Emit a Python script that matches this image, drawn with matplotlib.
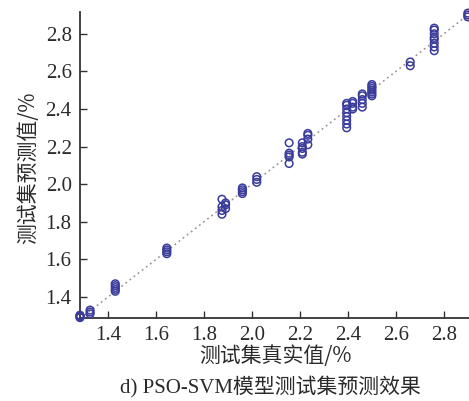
import matplotlib.pyplot as plt
import numpy as np

# true values (x) and predicted values (y) of the test set
true_vals = [1.283, 1.283, 1.283, 1.283, 1.283,
             1.325, 1.325, 1.325,
             1.43, 1.43, 1.43, 1.43, 1.43,
             1.645, 1.645, 1.645, 1.645,
             1.875, 1.875, 1.875, 1.875, 1.89, 1.89, 1.89,
             1.96, 1.96, 1.96, 1.96,
             2.02, 2.02, 2.02,
             2.155, 2.155, 2.155, 2.155, 2.155,
             2.21, 2.21, 2.21, 2.21, 2.21, 2.233, 2.233, 2.233, 2.233,
             2.395, 2.395, 2.395, 2.395, 2.395, 2.395, 2.395, 2.395,
             2.42, 2.42, 2.42, 2.42,
             2.46, 2.46, 2.46, 2.46, 2.46,
             2.50, 2.50, 2.50, 2.50, 2.50, 2.50, 2.50,
             2.66, 2.66,
             2.76, 2.76, 2.76, 2.76, 2.76, 2.76, 2.76, 2.76,
             2.90, 2.90, 2.90]
pred_vals = [1.29, 1.293, 1.296, 1.30, 1.303,
             1.31, 1.32, 1.33,
             1.43, 1.44, 1.45, 1.46, 1.47,
             1.63, 1.64, 1.65, 1.66,
             1.84, 1.86, 1.88, 1.92, 1.87, 1.89, 1.90,
             1.95, 1.96, 1.97, 1.98,
             2.01, 2.025, 2.04,
             2.11, 2.145, 2.155, 2.165, 2.22,
             2.16, 2.17, 2.19, 2.20, 2.22, 2.21, 2.24, 2.26, 2.27,
             2.30, 2.32, 2.34, 2.36, 2.38, 2.40, 2.42, 2.43,
             2.40, 2.41, 2.43, 2.44,
             2.41, 2.43, 2.45, 2.47, 2.48,
             2.47, 2.48, 2.49, 2.50, 2.51, 2.52, 2.53,
             2.63, 2.65,
             2.71, 2.73, 2.75, 2.77, 2.78, 2.80, 2.82, 2.83,
             2.89, 2.90, 2.91]
ticks = [1.4, 1.6, 1.8, 2.0, 2.2, 2.4, 2.6, 2.8]
lims_x = (1.283, 2.905)
lims_y = (1.288, 2.916)

latin = ['Liberation Serif', 'Noto Sans CJK SC']
cjk = ['Noto Sans CJK SC', 'Liberation Serif']
txt_color = '#2a2a2a'

fig = plt.figure(figsize=(4.69, 4.01), dpi=100)
ax = fig.add_axes([80 / 469, 1 - 318 / 401, 1 - 80 / 469, (318 - 12) / 401])

# y = x reference line
ref = np.array([1.2, 3.0])
ax.plot(ref, ref, linestyle=(0, (1.2, 2.2)), color='#9a9090', linewidth=1.1, zorder=1)

ax.scatter(true_vals, pred_vals, s=30, facecolors='none', edgecolors='#3a3c9c',
           linewidths=1.1, zorder=3, clip_on=False)

ax.set_xlim(*lims_x)
ax.set_ylim(*lims_y)
ax.set_xticks(ticks)
ax.set_yticks(ticks)
ax.set_xticklabels([f'{t:.1f}' for t in ticks], family=latin, fontsize=15, color=txt_color)
ax.set_yticklabels([f'{t:.1f}' for t in ticks], family=latin, fontsize=15, color=txt_color)
ax.tick_params(direction='in', length=5, width=1, color='#333333', pad=6)

for side in ('top', 'right'):
    ax.spines[side].set_visible(False)
for side in ('left', 'bottom'):
    ax.spines[side].set_linewidth(1.3)
    ax.spines[side].set_color('#333333')

fig.text(28 / 469, 1 - 168 / 401, '测试集预测值/%', rotation=90, ha='center', va='center',
         family=cjk, fontsize=15, color=txt_color)
fig.text(275 / 469, 1 - 356 / 401, '测试集真实值/%', ha='center', va='center',
         family=cjk, fontsize=15, color=txt_color)
fig.text(270 / 469, 1 - 387 / 401, 'd) PSO-SVM模型测试集预测效果', ha='center', va='center',
         family=latin, fontsize=15, color=txt_color)

fig.savefig('out.png', dpi=100)
